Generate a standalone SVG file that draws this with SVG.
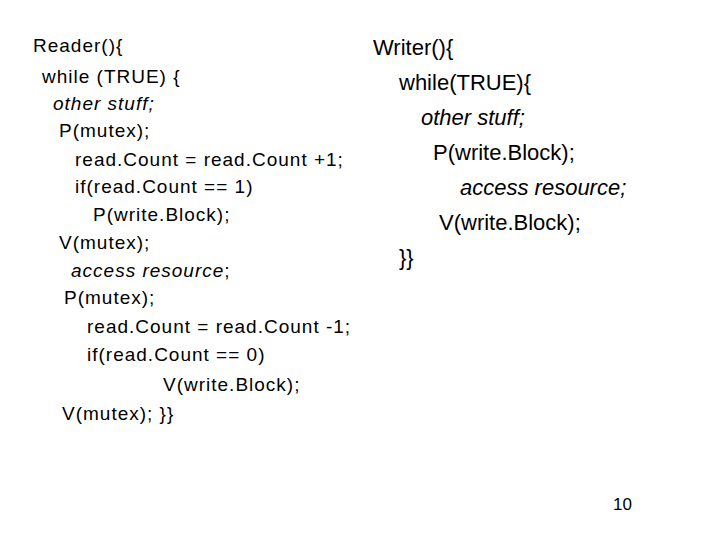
<svg xmlns="http://www.w3.org/2000/svg" width="720" height="540" viewBox="0 0 720 540">
<style>
text{font-family:"Liberation Sans",Arial,sans-serif;fill:#000}
.l{font-size:19px;letter-spacing:1px}
.r{font-size:22px}
.i{font-style:italic}
</style>
<rect width="720" height="540" fill="#fff"/>
<g id="reader">
<text class="l" x="33" y="52">Reader(){</text>
<text class="l" x="42" y="83">while (TRUE) {</text>
<text class="l i" x="53" y="110">other stuff;</text>
<text class="l" x="59" y="137">P(mutex);</text>
<text class="l" x="75" y="166">read.Count = read.Count +1;</text>
<text class="l" x="75" y="193">if(read.Count == 1)</text>
<text class="l" x="93" y="221">P(write.Block);</text>
<text class="l" x="59" y="249">V(mutex);</text>
<text class="l" x="71" y="277"><tspan class="i">access resource</tspan>;</text>
<text class="l" x="64" y="304">P(mutex);</text>
<text class="l" x="87" y="333">read.Count = read.Count -1;</text>
<text class="l" x="87" y="361">if(read.Count == 0)</text>
<text class="l" x="163" y="391">V(write.Block);</text>
<text class="l" x="62" y="420">V(mutex); }}</text>
</g>
<g id="writer">
<text class="r" x="373" y="55">Writer(){</text>
<text class="r" x="399" y="90">while(TRUE){</text>
<text class="r i" x="421" y="125">other stuff;</text>
<text class="r" x="433" y="160">P(write.Block);</text>
<text class="r i" x="460" y="195">access resource;</text>
<text class="r" x="439" y="230">V(write.Block);</text>
<text class="r" x="399" y="265">}}</text>
</g>
<g id="page"><text x="613" y="510" style="font-size:17px">10</text></g>
</svg>
